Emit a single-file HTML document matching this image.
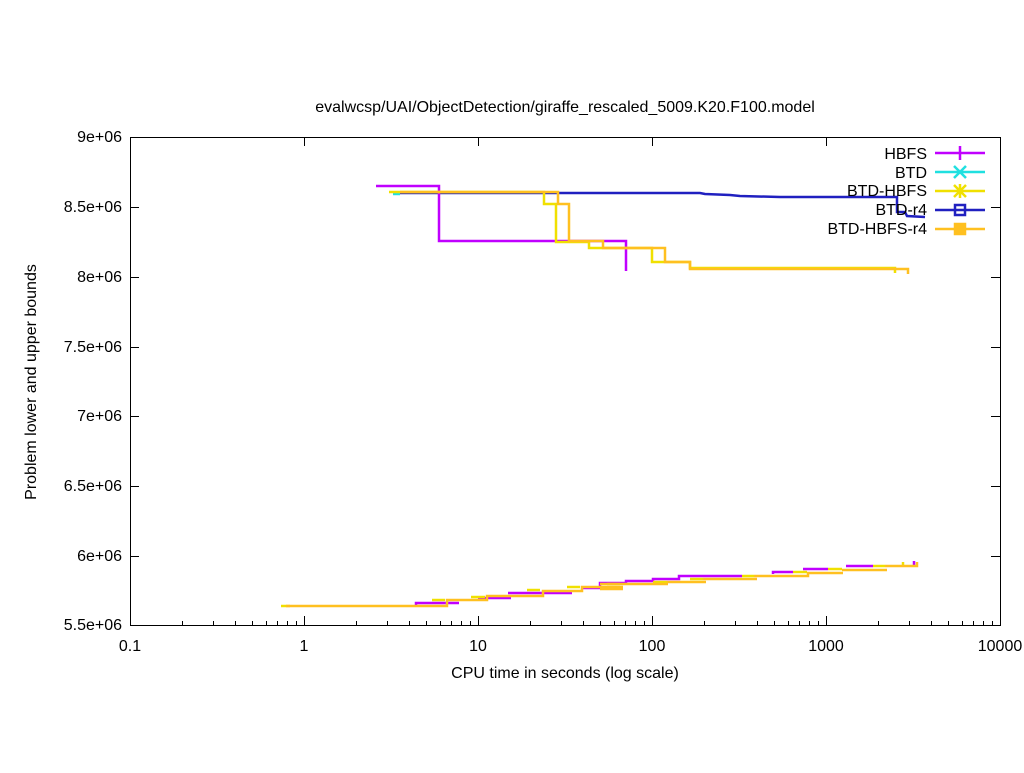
<!DOCTYPE html>
<html><head><meta charset="utf-8"><style>body{margin:0;background:#fff}</style></head><body>
<svg width="1024" height="768" xmlns="http://www.w3.org/2000/svg" font-family="Liberation Sans, sans-serif" font-size="16">
<rect width="1024" height="768" fill="#fff"/>
<g stroke="#000" stroke-width="1" fill="none">
<rect x="130.5" y="137.5" width="870" height="488"/>
<path d="M130 207.5h9M1000 207.5h-9M130 277.5h9M1000 277.5h-9M130 347.5h9M1000 347.5h-9M130 416.5h9M1000 416.5h-9M130 486.5h9M1000 486.5h-9M130 556.5h9M1000 556.5h-9"/>
<path d="M304.5 625v-9M304.5 137v9M478.5 625v-9M478.5 137v9M652.5 625v-9M652.5 137v9M826.5 625v-9M826.5 137v9"/>
<path d="M182.5 625v-4M213.5 625v-4M235.5 625v-4M252.5 625v-4M266.5 625v-4M277.5 625v-4M287.5 625v-4M296.5 625v-4M356.5 625v-4M387.5 625v-4M409.5 625v-4M426.5 625v-4M440.5 625v-4M451.5 625v-4M461.5 625v-4M470.5 625v-4M530.5 625v-4M561.5 625v-4M583.5 625v-4M600.5 625v-4M614.5 625v-4M625.5 625v-4M635.5 625v-4M644.5 625v-4M704.5 625v-4M735.5 625v-4M757.5 625v-4M774.5 625v-4M788.5 625v-4M799.5 625v-4M809.5 625v-4M818.5 625v-4M878.5 625v-4M909.5 625v-4M931.5 625v-4M948.5 625v-4M962.5 625v-4M973.5 625v-4M983.5 625v-4M992.5 625v-4"/>
</g>
<g text-anchor="end">
<text x="122" y="142">9e+06</text><text x="122" y="212">8.5e+06</text><text x="122" y="282">8e+06</text><text x="122" y="352">7.5e+06</text><text x="122" y="421">7e+06</text><text x="122" y="491">6.5e+06</text><text x="122" y="561">6e+06</text><text x="122" y="630">5.5e+06</text>
</g>
<g text-anchor="middle">
<text x="130" y="651">0.1</text><text x="304" y="651">1</text><text x="478" y="651">10</text><text x="652" y="651">100</text><text x="826" y="651">1000</text><text x="1000" y="651">10000</text>
<text x="565" y="678">CPU time in seconds (log scale)</text>
<text x="565" y="112">evalwcsp/UAI/ObjectDetection/giraffe_rescaled_5009.K20.F100.model</text>
<text transform="translate(36,382) rotate(-90)">Problem lower and upper bounds</text>
</g>
<g fill="none" stroke-width="2.5">
<polyline stroke="#20e0e0" points="393,194 400,194"/>
<polyline stroke="#2020c0" points="400,193 700,193 705,194 730,195 740,196 780,197 897,197 897,212 905,212 907,216 925,217"/>
<polyline stroke="#c000ff" points="376,186 439,186 439,241 626,241 626,271"/>
<polyline stroke="#f0e000" points="389,192 544,192 544,204 556,204 556,242 589,242 589,248 652,248 652,262 690,262 690,268 895,268 895,273"/>
<polyline stroke="#ffc020" points="400,192 558,192 558,204 569,204 569,241 603,241 603,248 665,248 665,262 690,262 690,269 908,269 908,274"/>
<polyline stroke="#c000ff" points="416,606 416,603 459,603"/>
<polyline stroke="#c000ff" points="478,598 511,598 M0,0"/>
<polyline stroke="#c000ff" points="508,593 572,593"/>
<polyline stroke="#c000ff" points="583,588 600,588 600,583 626,583 626,581 653,581 653,579 679,579 679,576 742,576"/>
<polyline stroke="#c000ff" points="773,574 773,572 793,572"/>
<polyline stroke="#c000ff" points="803,569 828,569"/>
<polyline stroke="#c000ff" points="846,566 873,566"/>
<polyline stroke="#c000ff" points="914,566 914,561"/>
<polyline stroke="#f0e000" points="281,606 290,606"/>
<polyline stroke="#f0e000" points="432,600 445,600"/>
<polyline stroke="#f0e000" points="471,597 485,597"/>
<polyline stroke="#f0e000" points="527,590 540,590"/>
<polyline stroke="#f0e000" points="567,587 580,587"/>
<polyline stroke="#f0e000" points="607,584 620,584"/>
<polyline stroke="#f0e000" points="653,582 667,582"/>
<polyline stroke="#f0e000" points="690,579 703,579"/>
<polyline stroke="#f0e000" points="742,576 754,576"/>
<polyline stroke="#f0e000" points="793,572 807,572"/>
<polyline stroke="#f0e000" points="828,569 842,569"/>
<polyline stroke="#f0e000" points="873,566 885,566"/>
<polyline stroke="#f0e000" points="903,566 903,562"/>
<polyline stroke="#ffc020" points="286,606 447,606 447,600 487,600 487,596 543,596 543,591 582,591 582,587 623,587 M0,0"/>
<polyline stroke="#ffc020" points="600,589 623,589 M0,0"/>
<polyline stroke="#ffc020" points="600,584 668,584 M0,0"/>
<polyline stroke="#ffc020" points="667,582 706,582 M0,0"/>
<polyline stroke="#ffc020" points="703,579 757,579 M0,0"/>
<polyline stroke="#ffc020" points="754,576 808,576 808,573 M0,0"/>
<polyline stroke="#ffc020" points="807,573 843,573 M0,0"/>
<polyline stroke="#ffc020" points="842,570 887,570 M0,0"/>
<polyline stroke="#ffc020" points="885,566 917,566 917,562"/>
</g>
<g text-anchor="end">
<text x="927" y="159">HBFS</text><text x="927" y="178">BTD</text><text x="927" y="196">BTD-HBFS</text><text x="927" y="215">BTD-r4</text><text x="927" y="234">BTD-HBFS-r4</text>
</g>
<g stroke-width="2.5" fill="none">
<path d="M935 153h50M960 146v14" stroke="#c000ff"/>
<path d="M935 172h50M954 166l12 12M966 166l-12 12" stroke="#20e0e0"/>
<path d="M935 191h50M954 185l12 12M966 185l-12 12M960 184v14M953 191h14" stroke="#f0e000"/>
<path d="M935 210h50" stroke="#2020c0"/><rect x="955" y="205" width="10" height="10" stroke="#2020c0"/>
<path d="M935 229h50" stroke="#ffc020"/><rect x="955" y="224" width="10" height="10" fill="#ffc020" stroke="#ffc020"/>
</g>
</svg>
</body></html>
